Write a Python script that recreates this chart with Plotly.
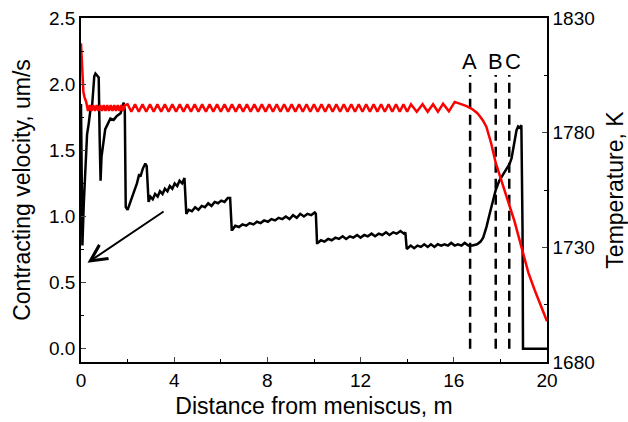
import plotly.graph_objects as go

# ---------------- data ----------------
# Contracting velocity (um/s) vs distance from meniscus (m)
dist_v = [0.00, 0.03, 0.06, 0.12, 0.20, 0.26, 0.33, 0.40, 0.47, 0.52, 0.57, 0.62, 0.70, 0.76, 0.80, 0.84,
          0.88, 0.95, 1.04, 1.15, 1.26, 1.40, 1.54, 1.70, 1.83, 1.88, 1.92, 2.00, 2.10, 2.26, 2.40, 2.50,
          2.55, 2.65, 2.76, 2.82, 2.88,
          2.90, 2.98, 3.08, 3.18, 3.29, 3.39, 3.50, 3.60, 3.71, 3.81, 3.92, 4.02, 4.13, 4.23, 4.34, 4.44,
          4.50, 4.52, 4.62, 4.76, 4.90, 5.04, 5.18, 5.32, 5.46, 5.60, 5.74, 5.88, 6.02, 6.16, 6.30, 6.40,
          6.47, 6.50, 6.62, 6.78, 6.93, 7.09, 7.24, 7.40, 7.55, 7.71, 7.86, 8.02, 8.17, 8.33, 8.48, 8.64,
          8.79, 8.95, 9.10, 9.26, 9.41, 9.57, 9.72, 9.88, 10.03, 10.08,
          10.13, 10.16, 10.30, 10.45, 10.61, 10.76, 10.92, 11.07, 11.23, 11.38, 11.54, 11.69, 11.85, 12.00,
          12.16, 12.31, 12.47, 12.62, 12.78, 12.93, 13.09, 13.24, 13.40, 13.55, 13.71, 13.86, 13.92,
          13.98, 14.02, 14.15, 14.30, 14.44, 14.59, 14.73, 14.88, 15.02, 15.17, 15.31, 15.46, 15.60, 15.75,
          15.89, 16.04, 16.18, 16.33, 16.47, 16.62, 16.80,
          17.00, 17.15, 17.26, 17.40, 17.54, 17.67, 17.80, 17.95, 18.11, 18.25, 18.40, 18.48, 18.54, 18.62,
          18.69, 18.76, 18.84, 18.90, 18.95, 18.97, 20.00]
velocity = [1.85, 1.20, 0.78, 1.10, 1.45, 1.62, 1.70, 1.80, 1.82, 1.95, 2.06, 2.08, 2.06, 2.05, 1.60, 1.27,
            1.45, 1.55, 1.66, 1.70, 1.74, 1.73, 1.76, 1.78, 1.86, 1.80, 1.07, 1.05, 1.10, 1.17, 1.25, 1.32,
            1.30, 1.36, 1.40, 1.38, 1.11,
            1.11, 1.15, 1.13, 1.17, 1.15, 1.19, 1.17, 1.21, 1.19, 1.23, 1.21, 1.25, 1.23, 1.27, 1.25, 1.29,
            1.02, 1.02, 1.05, 1.04, 1.07, 1.05, 1.08, 1.07, 1.10, 1.08, 1.11, 1.10, 1.12, 1.11, 1.14, 1.14,
            0.90, 0.90, 0.93, 0.92, 0.94, 0.93, 0.95, 0.94, 0.96, 0.95, 0.97, 0.96, 0.98, 0.97, 0.99, 0.98,
            1.00, 0.98, 1.01, 0.99, 1.02, 1.00, 1.02, 1.01, 1.03, 1.02,
            0.80, 0.80, 0.82, 0.81, 0.83, 0.82, 0.84, 0.83, 0.85, 0.83, 0.85, 0.84, 0.86, 0.84,
            0.86, 0.85, 0.87, 0.85, 0.87, 0.86, 0.88, 0.86, 0.88, 0.87, 0.89, 0.87, 0.88,
            0.755, 0.76, 0.78, 0.76, 0.78, 0.77, 0.79, 0.77, 0.79, 0.77, 0.79, 0.78, 0.79, 0.78,
            0.80, 0.78, 0.79, 0.78, 0.80, 0.78, 0.78,
            0.79, 0.81, 0.84, 0.92, 1.02, 1.11, 1.20, 1.27, 1.32, 1.36, 1.40, 1.44, 1.50, 1.58,
            1.65, 1.68, 1.67, 1.69, 0.90, 0.00, 0.00]

# Temperature (K) vs distance from meniscus (m)
dist_t = [0.00, 0.05, 0.10, 0.15, 0.22,
          0.30, 0.375, 0.45, 0.525, 0.60, 0.675, 0.75, 0.825, 0.90, 0.975, 1.05, 1.125, 1.20, 1.275,
          1.35, 1.425, 1.50, 1.575, 1.65, 1.725, 1.80, 1.875,
          2.00, 2.16, 2.32, 2.48, 2.64, 2.80, 2.96, 3.12, 3.28, 3.44, 3.60, 3.76, 3.92, 4.08, 4.24, 4.40,
          4.56, 4.72, 4.88, 5.04, 5.20, 5.36, 5.52, 5.68, 5.84, 6.00, 6.16, 6.32, 6.48, 6.64, 6.80, 6.96,
          7.12, 7.28, 7.44, 7.60, 7.76, 7.92, 8.08, 8.24, 8.40, 8.56, 8.72, 8.88, 9.04, 9.20, 9.36, 9.52,
          9.68, 9.84, 10.00, 10.16, 10.32, 10.48, 10.64, 10.80, 10.96, 11.12, 11.28, 11.44, 11.60, 11.76,
          11.92, 12.08, 12.24, 12.40, 12.56, 12.72, 12.88, 13.04, 13.20, 13.36, 13.52, 13.68, 13.84, 14.00,
          14.16,
          14.41, 14.66, 14.88, 15.11, 15.32, 15.54, 15.79, 16.04,
          16.30, 16.55, 16.80, 17.00, 17.11, 17.25, 17.40, 17.60, 17.80, 18.00, 18.20, 18.37, 18.60,
          18.80, 19.00, 19.20, 19.47, 19.70, 19.85, 20.00]
temperature = [1819.0, 1805.0, 1798.0, 1795.5, 1793.5,
               1789.5, 1792.0, 1789.5, 1792.0, 1789.5, 1792.0, 1789.5, 1792.0, 1789.5, 1792.0, 1789.5,
               1792.0, 1789.5, 1792.0, 1789.5, 1792.0, 1789.5, 1792.0, 1789.5, 1792.0, 1789.5, 1792.0,
               1792.4, 1789.1, 1792.4, 1789.1, 1792.4, 1789.1, 1792.4, 1789.1, 1792.4, 1789.1, 1792.4,
               1789.1, 1792.4, 1789.1, 1792.4, 1789.1, 1792.4, 1789.1, 1792.4, 1789.1, 1792.4, 1789.1,
               1792.4, 1789.1, 1792.4, 1789.1, 1792.4, 1789.1, 1792.4, 1789.1, 1792.4, 1789.1, 1792.4,
               1789.1, 1792.4, 1789.1, 1792.4, 1789.1, 1792.4, 1789.1, 1792.4, 1789.1, 1792.4, 1789.1,
               1792.4, 1789.1, 1792.4, 1789.1, 1792.4, 1789.1, 1792.4, 1789.1, 1792.4, 1789.1, 1792.4,
               1789.1, 1792.4, 1789.1, 1792.4, 1789.1, 1792.4, 1789.1, 1792.4, 1789.1, 1792.4, 1789.1,
               1792.4, 1789.1, 1792.4, 1789.1, 1792.4, 1789.1, 1792.4, 1789.1, 1792.4, 1789.1, 1792.4,
               1789.1, 1792.4, 1789.1, 1792.4, 1789.1, 1792.6, 1789.3, 1793.4,
               1792.6, 1791.6, 1790.2, 1788.6, 1787.3, 1785.3, 1782.5, 1775.5, 1766.8, 1760.5, 1755.0,
               1749.2, 1741.5, 1734.0, 1726.0, 1719.0, 1711.4, 1705.5, 1701.5, 1697.8]
assert len(dist_t) == len(temperature), (len(dist_t), len(temperature))
assert len(dist_v) == len(velocity), (len(dist_v), len(velocity))

# Marked positions (m)
mark_labels = ["A", "B", "C"]
mark_pos = [16.7, 17.8, 18.38]
label_pos = [16.66, 17.8, 18.56]
mark_top = 2.07
label_y = 2.17

# Arrow (annotation) from tail to head, in data units
arrow_tail = (3.61, 1.045)
arrow_head = (0.28, 0.65)

FONT = "Liberation Sans, Arial, sans-serif"

fig = go.Figure()

fig.add_trace(go.Scatter(x=dist_v, y=velocity, mode="lines",
                         line=dict(color="black", width=2.5), yaxis="y", showlegend=False))

for p in mark_pos:
    fig.add_trace(go.Scatter(x=[p, p], y=[0, mark_top], mode="lines",
                             line=dict(color="black", width=2.5, dash="10px,6px"),
                             yaxis="y", showlegend=False))

fig.add_trace(go.Scatter(x=dist_t, y=temperature, mode="lines",
                         line=dict(color="#ff0000", width=2.5), yaxis="y2", showlegend=False))

annotations = []
for lab, p in zip(mark_labels, label_pos):
    annotations.append(dict(x=p, y=label_y, xref="x", yref="y", text=lab, showarrow=False,
                            font=dict(size=22, color="black", family=FONT)))
annotations.append(dict(x=arrow_head[0], y=arrow_head[1], ax=arrow_tail[0], ay=arrow_tail[1],
                        xref="x", yref="y", axref="x", ayref="y", text="", showarrow=True,
                        arrowhead=5, arrowsize=1.6, arrowwidth=2, arrowcolor="black"))

fig.update_layout(
    width=628, height=422,
    margin=dict(l=81, r=81, t=18, b=60),
    paper_bgcolor="white", plot_bgcolor="white",
    font=dict(family=FONT, size=19, color="black"),
    annotations=annotations,
    xaxis=dict(range=[0, 20], tickvals=[0, 4, 8, 12, 16, 20], ticks="inside", ticklen=5,
               tickwidth=1.2, showline=True, linecolor="black", linewidth=1.5, mirror=True,
               showgrid=False, zeroline=False, automargin=False,
               minor=dict(ticks="inside", ticklen=3, dtick=2, tick0=0, tickcolor="black"),
               title=dict(text="Distance from meniscus, m", font=dict(size=23), standoff=8),
               tickfont=dict(size=19)),
    yaxis=dict(range=[-0.1, 2.5], tickvals=[0, 0.5, 1.0, 1.5, 2.0, 2.5], tickformat=".1f",
               ticks="inside", ticklen=5, tickwidth=1.2, showline=True, linecolor="black",
               linewidth=1.5, showgrid=False, zeroline=False, automargin=False,
               minor=dict(ticks="inside", ticklen=3, dtick=0.25, tick0=0, tickcolor="black"),
               title=dict(text="Contracting velocity, um/s", font=dict(size=23), standoff=12),
               tickfont=dict(size=19)),
    yaxis2=dict(range=[1680, 1830], tickvals=[1680, 1730, 1780, 1830], overlaying="y",
                side="right", ticks="inside", ticklen=5, tickwidth=1.2, showline=True,
                linecolor="black", linewidth=1.5, showgrid=False, zeroline=False, automargin=False,
                minor=dict(ticks="inside", ticklen=3, dtick=25, tick0=1680, tickcolor="black"),
                title=dict(text="Temperature, K", font=dict(size=23), standoff=15),
                tickfont=dict(size=19)),
)

fig.write_html("out.html")
